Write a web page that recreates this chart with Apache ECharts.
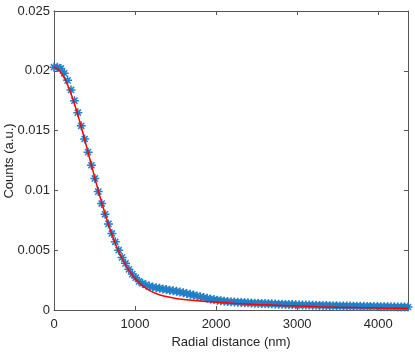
<!DOCTYPE html>
<html>
<head>
<meta charset="utf-8">
<script src="https://cdn.jsdelivr.net/npm/echarts@6/dist/echarts.min.js"></script>
<style>
    html, body { margin: 0; padding: 0; background: #fff; }
    #main__plot { width: 415px; height: 358px; }
</style>
</head>
<body>
<div id="main__plot"></div>
<script>
// measured profile (asterisks)
const RADIUS = [
    0, 42, 84, 126, 168, 210, 252, 294, 336, 378,
    420, 462, 504, 546, 588, 630, 672, 714, 756, 798,
    840, 882, 924, 966, 1008, 1050, 1092, 1134, 1176, 1218,
    1260, 1302, 1344, 1386, 1428, 1470, 1512, 1554, 1596, 1638,
    1680, 1722, 1764, 1806, 1848, 1890, 1932, 1974, 2016, 2058,
    2100, 2142, 2184, 2226, 2268, 2310, 2352, 2394, 2436, 2478,
    2520, 2562, 2604, 2646, 2688, 2730, 2772, 2814, 2856, 2898,
    2940, 2982, 3024, 3066, 3108, 3150, 3192, 3234, 3276, 3318,
    3360, 3402, 3444, 3486, 3528, 3570, 3612, 3654, 3696, 3738,
    3780, 3822, 3864, 3906, 3948, 3990, 4032, 4074, 4116, 4158,
    4200, 4242, 4284, 4326, 4368
];
const COUNTS = [
    0.0203, 0.0203, 0.0202, 0.0198, 0.0192, 0.0184, 0.0175, 0.0165, 0.0154, 0.0143,
    0.0132, 0.0121, 0.0110, 0.0099, 0.0089, 0.0080, 0.0072, 0.0064, 0.0057, 0.0050,
    0.0044, 0.0039, 0.0034, 0.0030, 0.0027, 0.0024, 0.00222, 0.00210, 0.00200, 0.00192,
    0.00186, 0.00181, 0.00176, 0.00171, 0.00166, 0.00161, 0.00156, 0.00150, 0.00144, 0.00138,
    0.00131, 0.00125, 0.00118, 0.00111, 0.00104, 0.00098, 0.00092, 0.00087, 0.00082, 0.00078,
    0.00074, 0.00071, 0.00069, 0.00067, 0.00065, 0.00063, 0.00061, 0.00060, 0.00058, 0.00057,
    0.00056, 0.00055, 0.00054, 0.00053, 0.00052, 0.00050, 0.00049, 0.00048, 0.00047, 0.00046,
    0.00045, 0.00044, 0.00043, 0.00042, 0.00041, 0.00041, 0.00040, 0.00039, 0.00038, 0.00038,
    0.00037, 0.00036, 0.00036, 0.00035, 0.00034, 0.00034, 0.00033, 0.00033, 0.00032, 0.00032,
    0.00031, 0.00031, 0.00030, 0.00030, 0.00029, 0.00029, 0.00028, 0.00028, 0.00028, 0.00027,
    0.00027, 0.00026, 0.00026, 0.00026, 0.00025
];

// fitted curve (red)
const FIT_X = [
    0, 50, 100, 150, 200, 250, 300, 350, 400, 450,
    500, 550, 600, 650, 700, 750, 800, 850, 900, 950,
    1000, 1050, 1100, 1150, 1200, 1250, 1300, 1400, 1500, 1600,
    1800, 2000, 2250, 2500, 2750, 3000, 3250, 3500, 3750, 4000,
    4250, 4368
];
const FIT_Y = [
    0.02033, 0.02013, 0.01971, 0.01908, 0.01826, 0.01728, 0.01617, 0.01497, 0.01371, 0.01242,
    0.01114, 0.00989, 0.00871, 0.00761, 0.00660, 0.00569, 0.00488, 0.00418, 0.00358, 0.00306,
    0.00263, 0.00228, 0.00199, 0.00175, 0.00156, 0.00140, 0.00128, 0.00110, 0.00097, 0.00088,
    0.00075, 0.000655, 0.000553, 0.000467, 0.000395, 0.000333, 0.000282, 0.000238, 0.000201, 0.000170,
    0.000143, 0.000132
];

const X_TICKS = [0, 1000, 2000, 3000, 4000];
const Y_TICKS = [0, 0.005, 0.01, 0.015, 0.02, 0.025];

const ASTERISK = 'path://M5,0L5,10M0,5L10,5M1.6,1.6L8.4,8.4M1.6,8.4L8.4,1.6';
const AXIS_COLOR = '#555';
const TEXT_COLOR = '#262626';
const FONT = 'Liberation Sans, Arial, sans-serif';

function boxAxis(position, isX) {
    // mirrored frame side without labels, ticks pointing inward
    return {
        type: 'value',
        position: position,
        min: 0,
        max: isX ? RADIUS[RADIUS.length - 1] : Y_TICKS[Y_TICKS.length - 1],
        interval: isX ? 1000 : 0.005,
        axisLine: {show: true, onZero: false, lineStyle: {color: AXIS_COLOR, width: 1}},
        axisTick: {show: true, inside: true, length: 4, lineStyle: {color: AXIS_COLOR}},
        axisLabel: {show: false},
        splitLine: {show: false},
    };
}

function initPlot() {
    let chartDom = document.getElementById('main__plot');
    let myChart = echarts.init(chartDom, null, {renderer: 'canvas'});

    let measured = RADIUS.map((r, i) => [r, COUNTS[i]]);
    let fitted = FIT_X.map((r, i) => [r, FIT_Y[i]]);

    let option = {
        animation: false,
        backgroundColor: '#fff',
        grid: {left: 54, top: 11, right: 7, bottom: 48, containLabel: false, outerBoundsMode: 'none'},
        // y axis title drawn as plain rotated text
        graphic: [
            {
                type: 'text',
                x: 9,
                y: 161,
                rotation: Math.PI / 2,
                style: {
                    text: 'Counts (a.u.)',
                    fill: TEXT_COLOR,
                    fontSize: 13,
                    fontFamily: FONT,
                    align: 'center',
                    verticalAlign: 'middle',
                },
            },
        ],
        xAxis: [
            {
                type: 'value',
                position: 'bottom',
                min: X_TICKS[0],
                max: RADIUS[RADIUS.length - 1],
                interval: 1000,
                name: 'Radial distance (nm)',
                nameLocation: 'middle',
                nameGap: 25,
                nameTextStyle: {color: TEXT_COLOR, fontSize: 13, fontFamily: FONT},
                axisLine: {show: true, onZero: false, lineStyle: {color: AXIS_COLOR, width: 1}},
                axisTick: {show: true, inside: true, length: 4, lineStyle: {color: AXIS_COLOR}},
                axisLabel: {
                    color: TEXT_COLOR, fontSize: 13, fontFamily: FONT, margin: 8,
                    showMaxLabel: false,
                    formatter: v => X_TICKS.includes(v) ? String(v) : '',
                },
                splitLine: {show: false},
            },
            boxAxis('top', true),
        ],
        yAxis: [
            {
                type: 'value',
                position: 'left',
                min: Y_TICKS[0],
                max: Y_TICKS[Y_TICKS.length - 1],
                interval: 0.005,
                axisLine: {show: true, onZero: false, lineStyle: {color: AXIS_COLOR, width: 1}},
                axisTick: {show: true, inside: true, length: 4, lineStyle: {color: AXIS_COLOR}},
                axisLabel: {
                    color: TEXT_COLOR, fontSize: 13, fontFamily: FONT, margin: 4,
                    formatter: v => String(parseFloat(v.toFixed(3))),
                },
                splitLine: {show: false},
            },
            boxAxis('right', false),
        ],
        series: [
            {
                type: 'scatter',
                data: measured,
                symbol: ASTERISK,
                symbolSize: 9,
                itemStyle: {color: 'none', borderColor: '#1f7fc8', borderWidth: 1.5, opacity: 1},
                z: 2,
            },
            {
                type: 'line',
                data: fitted,
                smooth: 0.3,
                showSymbol: false,
                lineStyle: {color: '#FF0000', width: 1.5},
                z: 3,
            },
        ],
    };

    option && myChart.setOption(option);
}

initPlot();
</script>
</body>
</html>
